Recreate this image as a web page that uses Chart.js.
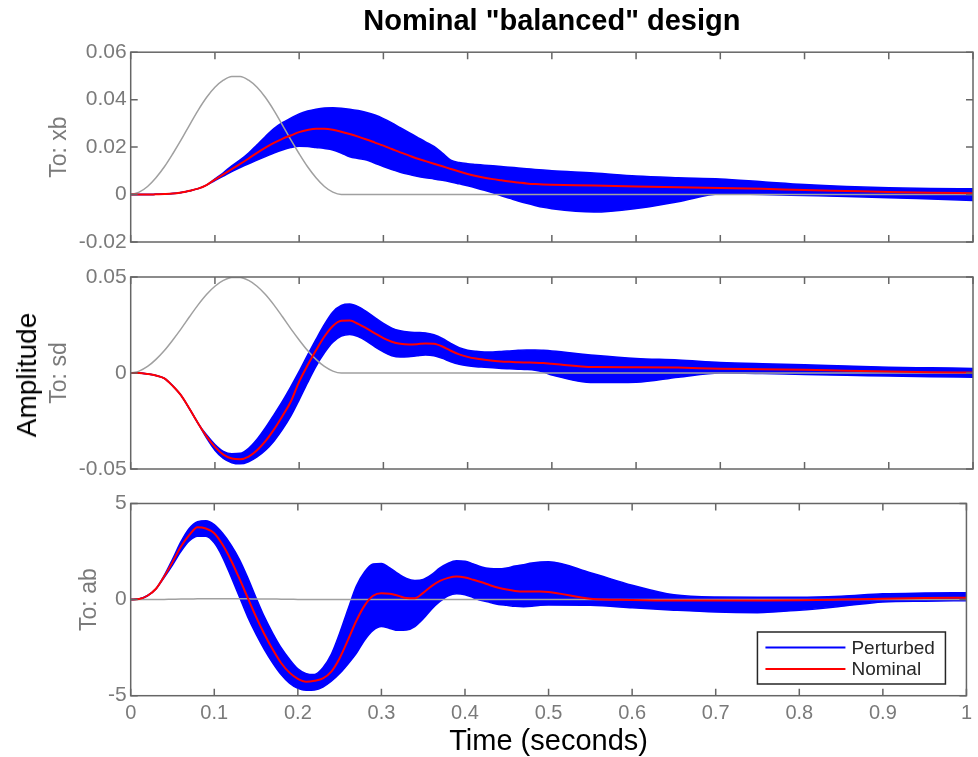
<!DOCTYPE html>
<html>
<head>
<meta charset="utf-8">
<script src="https://cdn.jsdelivr.net/npm/chart.js@4.4.0/dist/chart.umd.min.js"></script>
<style>
  body { margin: 0; background: #fff; width: 978px; height: 757px; overflow: hidden; position: relative; }
  canvas { position: absolute; left: 0; }
  #amp { position: absolute; left: 27px; top: 375px; transform: translate(-50%, -50%) rotate(-90deg);
         font: 28px "Liberation Sans", Arial, sans-serif; color: #000; white-space: nowrap; }
</style>
</head>
<body>
<canvas id="p1" width="978" height="260" style="top:0px"></canvas>
<canvas id="p2" width="978" height="235" style="top:255px"></canvas>
<canvas id="p3" width="978" height="272" style="top:485px"></canvas>
<div id="amp">Amplitude</div>
<script>
// time axis (seconds)
var time = [0,0.01,0.02,0.03,0.04,0.05,0.06,0.07,0.08,0.09,
  0.1,0.11,0.12,0.13,0.14,0.15,0.16,0.17,0.18,0.19,
  0.2,0.21,0.22,0.23,0.24,0.25,0.26,0.27,0.28,0.29,
  0.3,0.31,0.32,0.33,0.34,0.35,0.36,0.37,0.38,0.39,
  0.4,0.41,0.42,0.43,0.44,0.45,0.46,0.47,0.48,0.49,
  0.5,0.55,0.6,0.65,0.7,0.75,0.8,0.85,0.9,0.95,1.0];

var seriesNames = ['Perturbed', 'Nominal'];
var panelLabels = ['To: xb', 'To: sd', 'To: ab'];

var xTicks = [0,0.1,0.2,0.3,0.4,0.5,0.6,0.7,0.8,0.9,1];
var xTickLabels = ['0','0.1','0.2','0.3','0.4','0.5','0.6','0.7','0.8','0.9','1'];
var yTicks1 = [-0.02,0,0.02,0.04,0.06];
var yTickLabels1 = ['-0.02','0','0.02','0.04','0.06'];
var yTicks2 = [-0.05,0,0.05];
var yTickLabels2 = ['-0.05','0','0.05'];
var yTicks3 = [-5,0,5];
var yTickLabels3 = ['-5','0','5'];

// input bump (grey)
var input1 = [0,0.001,0.0034,0.0071,0.0117,0.0172,0.0231,0.0294,0.0355,0.0409,
  0.0452,0.0482,0.0498,0.0498,0.0482,0.0452,0.0409,0.0355,0.0294,0.0231,
  0.0172,0.0117,0.0071,0.0034,0.001,0,0,0,0,0,
  0,0,0,0,0,0,0,0,0,0,
  0,0,0,0,0,0,0,0,0,0,
  0,0,0,0,0,0,0,0,0,0,0];
var input3 = [0,0,0,0,0.01,0.02,0.03,0.03,0.04,0.04,
  0.04,0.04,0.04,0.04,0.04,0.03,0.03,0.03,0.02,0.02,
  0.01,0.01,0,0,0,0,0,0,0,0,
  0,0,0,0,0,0,0,0,0,0,
  0,0,0,0,0,0,0,0,0,0,
  0,0,0,0,0,0,0,0,0,0,0];

// To: xb
var nominal1 = [0,0,0,0.0001,0.0002,0.0004,0.0009,0.0016,0.0025,0.004,
  0.0063,0.0085,0.0107,0.0129,0.0152,0.0176,0.0198,0.0218,0.0235,0.0249,
  0.0263,0.0272,0.0277,0.0277,0.0273,0.0265,0.0255,0.0244,0.0232,0.0219,
  0.0206,0.0192,0.0178,0.0165,0.0152,0.0141,0.013,0.0119,0.0108,0.0097,
  0.0087,0.0078,0.0071,0.0065,0.006,0.0055,0.0051,0.0047,0.0044,0.0042,
  0.0041,0.0038,0.0034,0.0031,0.0028,0.0024,0.0019,0.0015,0.0011,0.0008,0.0006];
var upper1 = [0,0,0,0.0001,0.0002,0.0004,0.0009,0.0016,0.0025,0.004,
  0.0066,0.0092,0.0121,0.0146,0.0175,0.021,0.0245,0.0278,0.0303,0.0322,
  0.034,0.0352,0.036,0.0365,0.0366,0.0364,0.036,0.0354,0.0346,0.0335,
  0.032,0.0302,0.0282,0.0262,0.0242,0.0222,0.0203,0.0175,0.0145,0.0135,
  0.013,0.0127,0.0124,0.0121,0.0118,0.0115,0.0112,0.0109,0.0106,0.0103,
  0.01,0.0091,0.0078,0.0071,0.0066,0.0054,0.0042,0.0034,0.0029,0.0026,0.0024];
var lower1 = [0,0,0,0.0001,0.0002,0.0004,0.0009,0.0016,0.0025,0.004,
  0.0059,0.0078,0.0097,0.0114,0.013,0.0145,0.016,0.0175,0.0188,0.0198,
  0.0204,0.0202,0.0198,0.0194,0.0188,0.0175,0.0159,0.0152,0.0146,0.0132,
  0.0118,0.0105,0.0094,0.0085,0.0077,0.0071,0.0066,0.006,0.0053,0.0045,
  0.0037,0.0028,0.0018,0.0007,-0.0005,-0.0016,-0.0027,-0.0037,-0.0046,-0.0054,
  -0.006,-0.0074,-0.0059,-0.003,0.0002,0,-0.0004,-0.0008,-0.0013,-0.0019,-0.0025];

// To: sd
var nominal2 = [0,0,-0.0005,-0.0013,-0.0028,-0.0068,-0.0118,-0.0188,-0.0262,-0.033,
  -0.0385,-0.0425,-0.0445,-0.0449,-0.0435,-0.0402,-0.0355,-0.0295,-0.0225,-0.015,
  -0.0045,0.004,0.0118,0.019,0.0245,0.0272,0.0273,0.0256,0.0232,0.0206,
  0.0182,0.0163,0.0152,0.0148,0.015,0.0154,0.0152,0.0138,0.0116,0.0097,
  0.0084,0.0075,0.0069,0.0064,0.006,0.0058,0.0056,0.0055,0.0054,0.0052,
  0.0048,0.0031,0.003,0.0028,0.0022,0.002,0.0017,0.0012,0.0008,0.0004,0.0002];
var upper2 = [0,0,-0.0005,-0.0013,-0.0028,-0.0068,-0.0118,-0.0188,-0.0262,-0.0322,
  -0.0372,-0.0408,-0.042,-0.0418,-0.0392,-0.0345,-0.0285,-0.0218,-0.0148,-0.0072,
  0.0008,0.0093,0.0175,0.0253,0.0318,0.0352,0.0359,0.0346,0.032,0.0288,
  0.0258,0.0234,0.022,0.0213,0.0211,0.0209,0.0199,0.018,0.0154,0.0132,
  0.0119,0.0113,0.011,0.011,0.0112,0.0115,0.0118,0.012,0.012,0.0118,
  0.0115,0.0093,0.0076,0.0068,0.0055,0.0048,0.0043,0.0036,0.003,0.0027,0.0024];
var lower2 = [0,0,-0.0005,-0.0013,-0.0028,-0.0068,-0.0118,-0.0188,-0.0262,-0.0338,
  -0.0402,-0.0445,-0.0467,-0.0473,-0.0462,-0.0437,-0.0402,-0.0355,-0.0295,-0.0225,
  -0.014,-0.005,0.0035,0.0105,0.016,0.0192,0.0201,0.019,0.0166,0.0136,
  0.011,0.009,0.0083,0.0085,0.009,0.0094,0.009,0.0076,0.0059,0.0046,
  0.0038,0.0033,0.003,0.0027,0.0024,0.0022,0.002,0.0018,0.0014,0.0005,
  -0.001,-0.005,-0.0048,-0.0022,0,-0.0003,-0.0008,-0.0012,-0.0016,-0.002,-0.0022];

// To: ab
var nominal3 = [0,0.03,0.2,0.55,1.2,1.95,2.75,3.35,3.77,3.7,
  3.45,2.85,2.05,1.1,0.1,-0.9,-1.8,-2.6,-3.3,-3.8,
  -4.12,-4.27,-4.22,-4.1,-3.75,-3.05,-2.1,-1.1,-0.3,0.2,
  0.33,0.3,0.2,0.08,0.07,0.35,0.7,0.97,1.13,1.2,
  1.15,1.03,0.9,0.75,0.62,0.52,0.45,0.42,0.42,0.42,
  0.4,0.05,-0.02,-0.05,-0.05,-0.05,-0.04,0,0.05,0.08,0.1];
var upper3 = [0,0.03,0.2,0.55,1.25,2.1,3.0,3.7,4.05,4.1,
  3.9,3.45,2.85,2.1,1.15,0.1,-0.9,-1.75,-2.5,-3.1,
  -3.6,-3.85,-3.9,-3.55,-2.85,-1.75,-0.5,0.7,1.45,1.85,
  1.88,1.65,1.35,1.1,1.0,1.05,1.3,1.65,1.9,2.02,
  2.0,1.85,1.7,1.62,1.6,1.65,1.75,1.82,1.9,1.95,
  1.97,1.4,0.75,0.25,0.13,0.12,0.12,0.18,0.3,0.34,0.36];
var lower3 = [0,0.03,0.2,0.55,1.15,1.8,2.5,3.05,3.3,3.3,
  2.95,2.2,1.2,0.15,-0.9,-1.8,-2.6,-3.3,-3.9,-4.35,
  -4.62,-4.72,-4.7,-4.55,-4.25,-3.85,-3.35,-2.8,-2.1,-1.6,
  -1.4,-1.5,-1.6,-1.58,-1.4,-1.0,-0.5,-0.1,0.2,0.3,
  0.25,0.1,-0.05,-0.15,-0.25,-0.3,-0.35,-0.37,-0.35,-0.3,
  -0.28,-0.3,-0.42,-0.55,-0.65,-0.68,-0.55,-0.35,-0.12,-0.08,-0.06];

var BLUE = '#0000ff';
var RED = '#ff0000';
var GREY_LINE = '#a0a0a0';
var AXIS_COLOR = '#666666';
var TICK_COLOR = '#7a7a7a';
var FONT = '"Liberation Sans", Arial, Helvetica, sans-serif';

Chart.defaults.font.family = FONT;

function pts(values) {
  return values.map(function (v, i) { return { x: time[i], y: v }; });
}

// box around the axes + inward ticks on all four sides (matlab look)
var boxPlugin = {
  id: 'box',
  afterDraw: function (chart) {
    var ctx = chart.ctx, a = chart.chartArea;
    var xs = chart.scales.x, ys = chart.scales.y;
    var len = 7;
    ctx.save();
    ctx.strokeStyle = AXIS_COLOR;
    ctx.lineWidth = 1.5;
    ctx.beginPath();
    xTicks.forEach(function (v) {
      var px = xs.getPixelForValue(v);
      ctx.moveTo(px, a.bottom); ctx.lineTo(px, a.bottom - len);
      ctx.moveTo(px, a.top); ctx.lineTo(px, a.top + len);
    });
    ys.ticks.forEach(function (t) {
      var py = ys.getPixelForValue(t.value);
      ctx.moveTo(a.left, py); ctx.lineTo(a.left + len, py);
      ctx.moveTo(a.right, py); ctx.lineTo(a.right - len, py);
    });
    ctx.stroke();
    ctx.strokeRect(a.left, a.top, a.right - a.left, a.bottom - a.top);
    ctx.restore();
  }
};

// legend drawn inside the bottom axes
var legendBox = {
  id: 'legendBox',
  afterDraw: function (chart, args, opts) {
    if (!opts.show) return;
    var ctx = chart.ctx, a = chart.chartArea;
    var w = 188, h = 52;
    var x0 = a.right - 21 - w, y0 = a.bottom - 11.7 - h;
    ctx.save();
    ctx.fillStyle = '#fff';
    ctx.fillRect(x0, y0, w, h);
    ctx.strokeStyle = '#262626';
    ctx.lineWidth = 1.5;
    ctx.strokeRect(x0, y0, w, h);
    var rows = [
      { text: seriesNames[0], color: BLUE, y: y0 + 15.4 },
      { text: seriesNames[1], color: RED, y: y0 + 37 }
    ];
    ctx.font = '19px ' + FONT;
    ctx.textBaseline = 'middle';
    rows.forEach(function (r) {
      ctx.strokeStyle = r.color;
      ctx.lineWidth = 2;
      ctx.beginPath();
      ctx.moveTo(x0 + 8, r.y); ctx.lineTo(x0 + 88, r.y);
      ctx.stroke();
      ctx.fillStyle = '#262626';
      ctx.fillText(r.text, x0 + 94, r.y + 1);
    });
    ctx.restore();
  }
};

function makePanel(id, cfg) {
  var datasets = [
    { label: seriesNames[1], data: pts(cfg.nominal), borderColor: RED, borderWidth: 2 },
    { label: 'input', data: pts(cfg.input), borderColor: GREY_LINE, borderWidth: 1.5 },
    { label: seriesNames[0], data: pts(cfg.upper), borderColor: BLUE, borderWidth: 1.5 },
    { label: seriesNames[0], data: pts(cfg.lower), borderColor: BLUE, borderWidth: 1.5,
      fill: '-1', backgroundColor: BLUE }
  ];
  datasets.forEach(function (d) {
    d.pointRadius = 0;
    d.cubicInterpolationMode = 'monotone';
    if (!d.fill) d.fill = false;
  });

  return new Chart(document.getElementById(id), {
    type: 'line',
    data: { datasets: datasets },
    options: {
      responsive: false,
      animation: false,
      events: [],
      layout: { padding: { top: cfg.padTop, bottom: cfg.padBottom, left: 0, right: 5 } },
      plugins: {
        legend: { display: false },
        tooltip: { enabled: false },
        title: cfg.title ? {
          display: true, text: cfg.title, fullSize: false, color: '#000',
          font: { size: 29, weight: 'bold' }, padding: { top: 5, bottom: 12.4 }
        } : { display: false },
        legendBox: { show: !!cfg.legend }
      },
      scales: {
        x: {
          type: 'linear', min: 0, max: 1,
          display: !!cfg.showX,
          afterBuildTicks: function (s) { s.ticks = xTicks.map(function (v) { return { value: v }; }); },
          afterFit: function (s) { if (cfg.showX) s.height = 61.3; },
          grid: { display: false, drawTicks: false },
          border: { display: false },
          ticks: {
            color: TICK_COLOR, font: { size: 20 }, padding: 6, maxRotation: 0, autoSkip: false,
            callback: function (v, i) { return xTickLabels[i]; }
          },
          title: { display: true, text: 'Time (seconds)', color: '#000',
                   font: { size: 29, lineHeight: 1 }, padding: { top: 0, bottom: 0.5 } }
        },
        y: {
          type: 'linear', min: cfg.yTicks[0], max: cfg.yTicks[cfg.yTicks.length - 1],
          afterBuildTicks: function (s) { s.ticks = cfg.yTicks.map(function (v) { return { value: v }; }); },
          afterFit: function (s) { s.width = 130.7; },
          grid: { display: false, drawTicks: false },
          border: { display: false },
          ticks: {
            color: TICK_COLOR, font: { size: 21 }, padding: 4, autoSkip: false,
            callback: function (v, i) { return cfg.yLabels[i]; }
          },
          title: { display: true, text: cfg.label, color: TICK_COLOR,
                   font: { size: 23 }, padding: { top: cfg.labelPad } }
        }
      }
    },
    plugins: [boxPlugin, legendBox]
  });
}

makePanel('p1', {
  nominal: nominal1, upper: upper1, lower: lower1, input: input1,
  yTicks: yTicks1, yLabels: yTickLabels1, label: panelLabels[0], labelPad: 46,
  title: 'Nominal "balanced" design', padTop: 0, padBottom: 18
});
makePanel('p2', {
  nominal: nominal2, upper: upper2, lower: lower2, input: input1,
  yTicks: yTicks2, yLabels: yTickLabels2, label: panelLabels[1], labelPad: 46,
  padTop: 22, padBottom: 21
});
makePanel('p3', {
  nominal: nominal3, upper: upper3, lower: lower3, input: input3,
  yTicks: yTicks3, yLabels: yTickLabels3, label: panelLabels[2], labelPad: 76,
  padTop: 18.5, padBottom: 0, showX: true, legend: true
});
</script>
</body>
</html>
